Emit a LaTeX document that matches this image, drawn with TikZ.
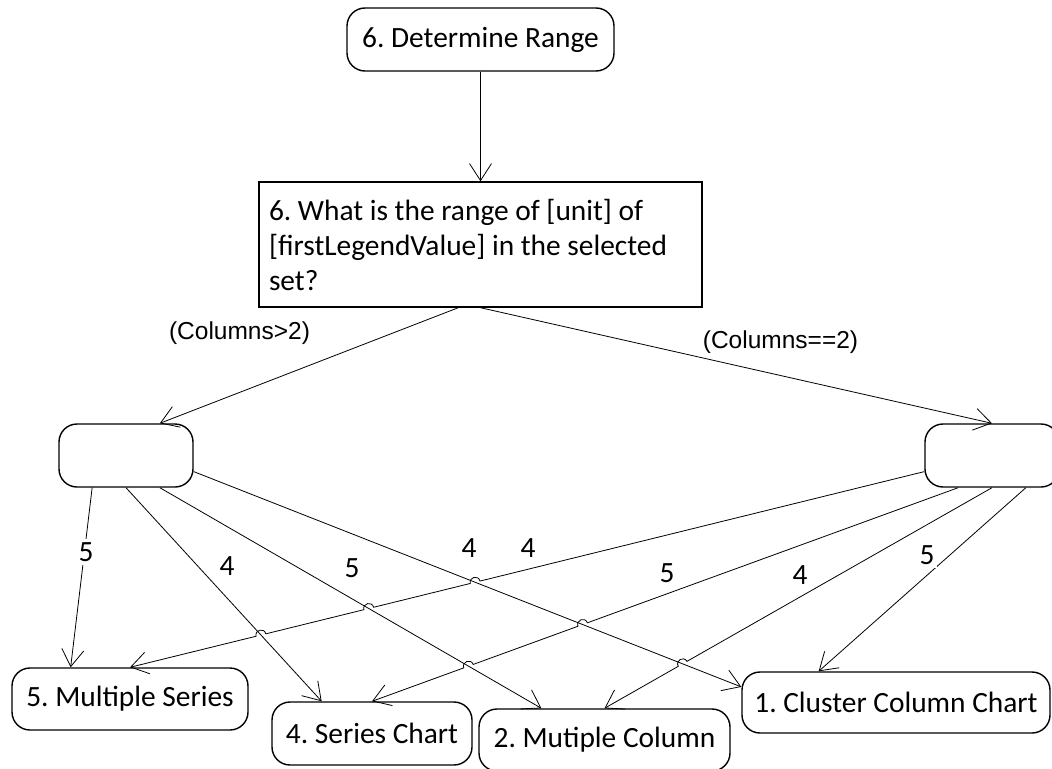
\documentclass[tikz,border=0pt]{standalone}
\usepackage{fontspec}
\setmainfont{Carlito}
\newfontfamily\arialf{Liberation Sans}
\usetikzlibrary{arrows.meta,calc,intersections}
\frenchspacing
\newcommand\myhop[3]{%
  \coordinate (hA) at ($(#1)!5bp!(#3)$);
  \coordinate (hB) at ($(#1)!5bp!(#2)$);
  \draw[hop] (hA) .. controls ($(hA)!6.67bp!90:(#1)$) and ($(hB)!6.67bp!-90:(#1)$) .. (hB);
}
\begin{document}
\begin{tikzpicture}[x=1bp,y=-1bp,
  box/.style={draw,line width=1.4bp,rounded corners=18bp,inner sep=0pt,font=\fontsize{29.4bp}{35bp}\selectfont\frenchspacing},
  qbox/.style={draw,line width=1.4bp,inner xsep=10bp,inner ysep=0pt,font=\fontsize{29.4bp}{35bp}\selectfont\frenchspacing,align=flush left,text width=423bp,minimum width=443bp,minimum height=125bp},
  conn/.style={line width=0.8bp,-{Straight Barb[length=17bp,width=22bp,line width=0.8bp]}},
  num/.style={fill=white,inner sep=3bp,font=\fontsize{29.4bp}{35bp}\selectfont},
  cond/.style={inner sep=0pt,font=\arialf\fontsize{24.5bp}{29bp}\selectfont},
  hop/.style={line width=0.8bp}
]
\useasboundingbox (0,0) rectangle (1052,769);

% nodes
\node[box,minimum width=267bp,minimum height=63bp] (T) at (480.5,39.5) {6. Determine Range};
\node[qbox] (Q) at (480.5,244.5) {6. What is the range of [unit] of\\{[firstLegendValue]} in the selected\\set?};
\node[box,minimum width=134bp,minimum height=63bp] (L) at (126,455.5) {};
\node[box,minimum width=134bp,minimum height=63bp] (R) at (992,455.5) {};
\node[box,minimum width=236bp,minimum height=62bp] (MS) at (130,699) {5. Multiple Series};
\node[box,minimum width=200bp,minimum height=63bp] (SC) at (372,733.5) {4. Series Chart};
\node[box,minimum width=251bp,minimum height=62bp] (MC) at (604.5,740) {2. Mutiple Column};
\node[box,minimum width=308bp,minimum height=61bp] (CL) at (896,702.5) {1. Cluster Column Chart};

% connection points
\coordinate (Qs1) at ($(Q.south west)!0.45!(Q.south east)$);
\coordinate (Lt) at ($(L.north west)!0.75!(L.north east)$);
\coordinate (Lb1) at ($(L.south west)!0.25!(L.south east)$);
\coordinate (Lb2) at (L.south);
\coordinate (Lb3) at ($(L.south west)!0.75!(L.south east)$);
\coordinate (Lr) at ($(L.north east)!0.75!(L.south east)$);
\coordinate (Rl) at ($(R.north west)!0.75!(R.south west)$);
\coordinate (Rb1) at ($(R.south west)!0.25!(R.south east)$);
\coordinate (Rb2) at (R.south);
\coordinate (Rb3) at ($(R.south west)!0.75!(R.south east)$);
\coordinate (MSt1) at ($(MS.north west)!0.25!(MS.north east)$);
\coordinate (MSt2) at (MS.north);
\coordinate (SCt1) at ($(SC.north west)!0.25!(SC.north east)$);
\coordinate (SCt2) at (SC.north);
\coordinate (MCt1) at ($(MC.north west)!0.25!(MC.north east)$);
\coordinate (MCt2) at (MC.north);
\coordinate (CLl) at ($(CL.north west)!0.25!(CL.south west)$);
\coordinate (CLt) at ($(CL.north west)!0.25!(CL.north east)$);

% top connectors
\draw[conn] (T.south) -- (Q.north);
\draw[conn] (Qs1) -- (Lt);
\draw[conn] (Q.south) -- (R.north);

% crossing paths
\path[name path=pLCL] (Lr) -- (CLl);
\path[name path=pLMC] (Lb3) -- (MCt1);
\path[name path=pLSC] (Lb2) -- (SCt1);
\path[name path=pRMS] (Rl) -- (MSt2);
\path[name path=pRSC] (Rb1) -- (SCt2);
\path[name path=pRMC] (Rb2) -- (MCt2);
\path[name intersections={of=pRMS and pLCL,by=X1}];
\path[name intersections={of=pRMS and pLMC,by=X2}];
\path[name intersections={of=pRMS and pLSC,by=X3}];
\path[name intersections={of=pRSC and pLCL,by=X4}];
\path[name intersections={of=pRSC and pLMC,by=X5}];
\path[name intersections={of=pRMC and pLCL,by=X6}];

% connectors from right blank node
\draw[conn] (Rl) -- (MSt2);
\draw[conn] (Rb1) -- (SCt2);
\draw[conn] (Rb2) -- (MCt2);
\draw[conn] (Rb3) -- (CLt);

\foreach \c in {X1,X2,X3,X4,X5,X6} \fill[white] (\c) circle (5bp);

% connectors from left blank node
\draw[conn] (Lb1) -- (MSt1);
\draw[conn] (Lb2) -- (SCt1);
\draw[conn] (Lb3) -- (MCt1);
\draw[conn] (Lr) -- (CLl);

% line hops
\myhop{X1}{Rl}{MSt2}
\myhop{X2}{Rl}{MSt2}
\myhop{X3}{Rl}{MSt2}
\myhop{X4}{Rb1}{SCt2}
\myhop{X5}{Rb1}{SCt2}
\myhop{X6}{Rb2}{MCt2}

% labels
\node[cond] (c1) at (239.5,333) {(Columns>2)};
\node[cond] (c2) at (780.5,342) {(Columns==2)};
\node[num] (n1) at (86,552) {5};
\node[num] (n2) at (227,566) {4};
\node[num] (n3) at (352,568) {5};
\node[num] (n4) at (469,548) {4};
\node[num] (n5) at (528,548) {4};
\node[num] (n6) at (667,573) {5};
\node[num] (n7) at (800,575) {4};
\node[num] (n8) at (927,555) {5};
\end{tikzpicture}
\end{document}
